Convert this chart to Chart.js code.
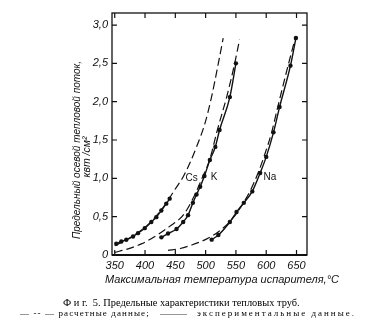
<!DOCTYPE html>
<html>
<head>
<meta charset="utf-8">
<script src="https://cdn.jsdelivr.net/npm/chart.js@4"></script>
<style>
    body { margin: 0; background: #fff; }
    #wrap { position: relative; width: 374px; height: 333px; }
    .cap { position: absolute; font-family: 'Liberation Serif', serif; color: #000; white-space: nowrap; }
</style>
</head>
<body>
<div id="wrap">
    <canvas id="heatPipeChart" width="374" height="333"></canvas>
    <div class="cap" style="left:63px; top:297px; font-size:10.4px;">Ф и г.&nbsp; 5. Предельные характеристики тепловых труб.</div>
    <div class="cap" style="left:20px; top:308px; font-size:9px; letter-spacing:1.1px;">— -- — расчетные данные;</div>
    <div class="cap" style="left:160px; top:308px; font-size:9px; letter-spacing:0;">———</div>
    <div class="cap" style="left:197px; top:308px; font-size:9px; letter-spacing:2px;">экспериментальные данные.</div>
</div>
<script>
const xTicks = [350, 400, 450, 500, 550, 600, 650];
const yTicks = [0, 0.5, 1, 1.5, 2, 2.5, 3];

// расчетные данные (штриховые)
const csCalcT = [350, 383, 408, 430, 441, 449, 463, 474, 485, 499, 510, 521, 529];
const csCalcQ = [0.12, 0.26, 0.42, 0.62, 0.75, 0.85, 1.02, 1.2, 1.41, 1.72, 2.07, 2.5, 2.83];
const kCalcT = [350, 372, 394, 419, 440, 463, 480, 494, 507, 519, 535, 548, 556];
const kCalcQ = [0.035, 0.08, 0.145, 0.255, 0.37, 0.52, 0.75, 1.0, 1.25, 1.62, 2.07, 2.5, 2.81];
const naCalcT = [438, 458, 475, 502, 524, 546, 560, 575, 588, 597, 609, 619, 637, 648];
const naCalcQ = [0.06, 0.085, 0.125, 0.21, 0.32, 0.49, 0.65, 0.86, 1.1, 1.3, 1.6, 1.93, 2.5, 2.83];

// экспериментальные данные (точки)
const csExpT = [352.6, 360.9, 369.1, 380.2, 388.4, 399.5, 410.4, 418.6, 426.9, 435.1, 440.7];
const csExpQ = [0.146, 0.176, 0.199, 0.242, 0.285, 0.35, 0.43, 0.494, 0.58, 0.67, 0.735];
const kExpT = [427, 438, 452, 463, 471, 479, 485, 491, 498, 507, 516, 523, 540, 550];
const kExpQ = [0.23, 0.28, 0.34, 0.43, 0.52, 0.68, 0.79, 0.89, 1.03, 1.24, 1.41, 1.63, 2.06, 2.5];
const naExpT = [510, 521, 540, 551, 563, 577, 590, 600, 612, 622, 640, 649];
const naExpQ = [0.2, 0.26, 0.43, 0.56, 0.68, 0.83, 1.07, 1.28, 1.6, 1.93, 2.47, 2.83];

const curveNames = ['Cs', 'K', 'Na'];
const curveLabelT = [477, 514, 606];
const curveLabelQ = [1.0, 1.01, 1.02];

const ink = '#111';

function toPoints(xs, ys) {
    return xs.map((x, i) => ({ x, y: ys[i] }));
}

function calcSet(xs, ys) {
    return {
        data: toPoints(xs, ys),
        showLine: true,
        borderColor: ink,
        borderWidth: 1.2,
        borderDash: [8, 4],
        pointRadius: 0,
        cubicInterpolationMode: 'monotone'
    };
}

function expSet(xs, ys) {
    return {
        data: toPoints(xs, ys),
        showLine: true,
        borderColor: ink,
        borderWidth: 1.4,
        pointRadius: 2.2,
        pointBackgroundColor: ink,
        pointBorderWidth: 0,
        cubicInterpolationMode: 'monotone'
    };
}

const framePlugin = {
    id: 'frame',
    afterDraw(chart) {
        const { ctx, chartArea: a, scales } = chart;
        ctx.save();
        ctx.strokeStyle = ink;
        ctx.lineWidth = 1.3;
        ctx.strokeRect(a.left, a.top, a.right - a.left, a.bottom - a.top);
        ctx.lineWidth = 2;
        ctx.beginPath();
        ctx.moveTo(a.left, a.bottom);
        ctx.lineTo(a.right, a.bottom);
        ctx.stroke();
        ctx.lineWidth = 1.2;
        ctx.beginPath();
        xTicks.forEach(v => {
            const px = scales.x.getPixelForValue(v);
            ctx.moveTo(px, a.bottom); ctx.lineTo(px, a.bottom - 5);
            ctx.moveTo(px, a.top); ctx.lineTo(px, a.top + 5);
        });
        yTicks.forEach(v => {
            const py = scales.y.getPixelForValue(v);
            ctx.moveTo(a.left, py); ctx.lineTo(a.left + 5, py);
            ctx.moveTo(a.right, py); ctx.lineTo(a.right - 5, py);
        });
        ctx.stroke();

        // подписи кривых
        ctx.fillStyle = ink;
        ctx.font = '10px "Liberation Sans"';
        ctx.textAlign = 'center';
        ctx.textBaseline = 'middle';
        curveNames.forEach((name, i) => {
            ctx.fillText(name, scales.x.getPixelForValue(curveLabelT[i]), scales.y.getPixelForValue(curveLabelQ[i]));
        });

        // подписи осей
        ctx.font = 'italic 11px "Liberation Sans"';
        ctx.fillText('Максимальная температура испарителя,°C', 222, 280);

        ctx.save();
        ctx.translate(77, 150);
        ctx.rotate(-Math.PI / 2);
        ctx.font = 'italic 10px "Liberation Sans"';
        ctx.fillText('Предельный осевой тепловой поток,', 0, 0);
        ctx.restore();
        ctx.save();
        ctx.translate(87, 157);
        ctx.rotate(-Math.PI / 2);
        ctx.font = 'italic 10.5px "Liberation Sans"';
        ctx.fillText('квт /см²', 0, 0);
        ctx.restore();
        ctx.restore();
    }
};

new Chart(document.getElementById('heatPipeChart'), {
    type: 'scatter',
    data: {
        datasets: [
            calcSet(csCalcT, csCalcQ),
            calcSet(kCalcT, kCalcQ),
            calcSet(naCalcT, naCalcQ),
            expSet(csExpT, csExpQ),
            expSet(kExpT, kExpQ),
            expSet(naExpT, naExpQ)
        ]
    },
    options: {
        responsive: false,
        animation: false,
        devicePixelRatio: 1,
        layout: { padding: { left: 0, right: 67, top: 13, bottom: 0 } },
        plugins: {
            legend: { display: false },
            tooltip: { enabled: false }
        },
        scales: {
            x: {
                type: 'linear',
                min: 345.5,
                max: 667.3,
                afterBuildTicks: s => { s.ticks = xTicks.map(v => ({ value: v })); },
                afterFit: s => { s.height = 78; },
                grid: { display: false, drawTicks: false },
                border: { display: false },
                ticks: {
                    color: ink,
                    padding: 4,
                    maxRotation: 0,
                    font: { family: 'Liberation Sans', size: 11, style: 'italic' },
                    callback: v => String(v)
                }
            },
            y: {
                type: 'linear',
                min: 0,
                max: 3.157,
                afterBuildTicks: s => { s.ticks = yTicks.map(v => ({ value: v })); },
                afterFit: s => { s.width = 112; },
                grid: { display: false, drawTicks: false },
                border: { display: false },
                ticks: {
                    color: ink,
                    padding: 4,
                    font: { family: 'Liberation Sans', size: 11, style: 'italic' },
                    callback: v => v === 0 ? '0' : v.toFixed(1).replace('.', ',')
                }
            }
        }
    },
    plugins: [framePlugin]
});
</script>
</body>
</html>
